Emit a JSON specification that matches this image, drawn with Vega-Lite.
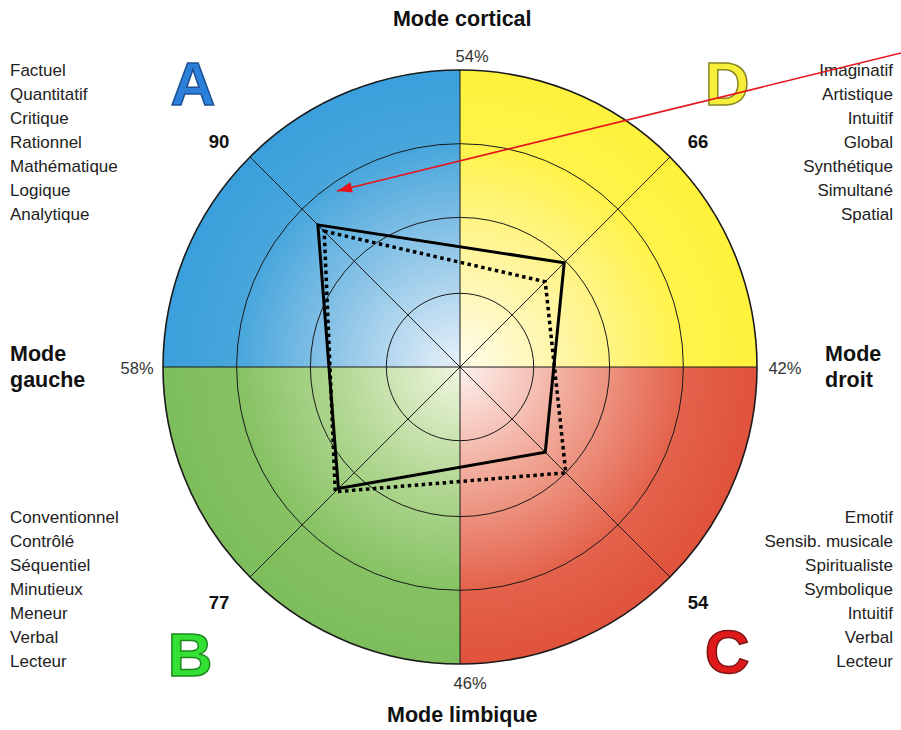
{
  "$schema": "https://vega.github.io/schema/vega-lite/v6.json",
  "width": 594,
  "height": 594,
  "autosize": "none",
  "padding": {"left": 163, "top": 70, "right": 144, "bottom": 66},
  "background": "white",
  "config": {"view": {"stroke": null}, "font": "Liberation Sans"},
  "datasets": {
    "quadrants": [
      {"q": "A", "a0": 270, "a1": 360, "rmax": 133},
      {"q": "D", "a0": 0, "a1": 90, "rmax": 133},
      {"q": "C", "a0": 90, "a1": 180, "rmax": 133},
      {"q": "B", "a0": 180, "a1": 270, "rmax": 133}
    ],
    "rings": [{"r": 33}, {"r": 67}, {"r": 100}, {"r": 133}],
    "spokes": [
      {"x": -133, "y": 0, "x2": 133, "y2": 0},
      {"x": 0, "y": 133, "x2": 0, "y2": -133},
      {"x": -94.05, "y": 94.05, "x2": 94.05, "y2": -94.05},
      {"x": 94.05, "y": 94.05, "x2": -94.05, "y2": -94.05}
    ],
    "profile": [
      {"series": "solid", "quadrant": "A", "k": 1, "score": 90, "x": -63.64, "y": 63.64},
      {"series": "solid", "quadrant": "D", "k": 2, "score": 66, "x": 46.67, "y": 46.67},
      {"series": "solid", "quadrant": "C", "k": 3, "score": 54, "x": 38.18, "y": -38.18},
      {"series": "solid", "quadrant": "B", "k": 4, "score": 77, "x": -54.45, "y": -54.45},
      {"series": "dotted", "quadrant": "A", "k": 1, "score": 86, "x": -60.81, "y": 60.81},
      {"series": "dotted", "quadrant": "D", "k": 2, "score": 54, "x": 38.18, "y": 38.18},
      {"series": "dotted", "quadrant": "C", "k": 3, "score": 67, "x": 47.38, "y": -47.38},
      {"series": "dotted", "quadrant": "B", "k": 4, "score": 79, "x": -55.86, "y": -55.86}
    ],
    "titles": [
      {"label": "Mode cortical", "x": 1, "y": 155.4, "side": "center"},
      {"label": "Mode limbique", "x": 1, "y": -156.3, "side": "center"},
      {"label": "Mode\ngauche", "x": -201.5, "y": 5.4, "side": "left"},
      {"label": "Mode\ndroit", "x": 163.5, "y": 5.4, "side": "left"}
    ],
    "percents": [
      {"label": "54%", "x": 5.4, "y": 138.8},
      {"label": "46%", "x": 4.5, "y": -142},
      {"label": "58%", "x": -144.6, "y": -0.9},
      {"label": "42%", "x": 145.5, "y": -0.9}
    ],
    "scores": [
      {"label": "90", "x": -107.9, "y": 100.8},
      {"label": "66", "x": 106.6, "y": 100.8},
      {"label": "77", "x": -107.9, "y": -105.7},
      {"label": "54", "x": 106.6, "y": -105.7}
    ],
    "letters": [
      {"q": "A", "x": -119.6, "y": 117.3},
      {"q": "D", "x": 119.6, "y": 117.3},
      {"q": "B", "x": -120.9, "y": -138.4},
      {"q": "C", "x": 119.6, "y": -137.0}
    ],
    "words": [
      {"q": "A", "side": "left", "x": -201.5, "y": 132.6, "label": "Factuel\nQuantitatif\nCritique\nRationnel\nMathématique\nLogique\nAnalytique"},
      {"q": "D", "side": "right", "x": 193.9, "y": 132.6, "label": "Imaginatif\nArtistique\nIntuitif\nGlobal\nSynthétique\nSimultané\nSpatial"},
      {"q": "B", "side": "left", "x": -201.5, "y": -67.6, "label": "Conventionnel\nContrôlé\nSéquentiel\nMinutieux\nMeneur\nVerbal\nLecteur"},
      {"q": "C", "side": "right", "x": 193.9, "y": -67.6, "label": "Emotif\nSensib. musicale\nSpiritualiste\nSymbolique\nIntuitif\nVerbal\nLecteur"}
    ],
    "arrow": [
      {"x": 197.5, "y": 140.6, "x2": -55.1, "y2": 78.8}
    ]
  },
  "layer": [
    {
      "data": {"name": "quadrants"},
      "transform": [{"filter": "datum.q == 'A'"}],
      "mark": {"type": "arc", "stroke": null, "fill": {"gradient": "radial", "x1": 1, "y1": 1, "r1": 0, "x2": 1, "y2": 1, "r2": 1, "stops": [{"offset": 0, "color": "#e8f1f9"}, {"offset": 0.4, "color": "#92c7e8"}, {"offset": 0.75, "color": "#48a6dc"}, {"offset": 1, "color": "#3a9fdb"}]}},
      "encoding": {
        "theta": {"field": "a0", "type": "quantitative", "stack": null, "scale": {"domain": [0, 360]}},
        "theta2": {"field": "a1"},
        "radius": {"field": "rmax", "type": "quantitative", "stack": null, "scale": {"type": "linear", "domain": [0, 133], "range": [0, 297], "zero": true}}
      }
    },
    {
      "data": {"name": "quadrants"},
      "transform": [{"filter": "datum.q == 'D'"}],
      "mark": {"type": "arc", "stroke": null, "fill": {"gradient": "radial", "x1": 0, "y1": 1, "r1": 0, "x2": 0, "y2": 1, "r2": 1, "stops": [{"offset": 0, "color": "#fffcec"}, {"offset": 0.4, "color": "#fff59a"}, {"offset": 0.75, "color": "#fff34a"}, {"offset": 1, "color": "#fff23c"}]}},
      "encoding": {
        "theta": {"field": "a0", "type": "quantitative", "stack": null, "scale": {"domain": [0, 360]}},
        "theta2": {"field": "a1"},
        "radius": {"field": "rmax", "type": "quantitative", "stack": null, "scale": {"type": "linear", "domain": [0, 133], "range": [0, 297], "zero": true}}
      }
    },
    {
      "data": {"name": "quadrants"},
      "transform": [{"filter": "datum.q == 'C'"}],
      "mark": {"type": "arc", "stroke": null, "fill": {"gradient": "radial", "x1": 0, "y1": 0, "r1": 0, "x2": 0, "y2": 0, "r2": 1, "stops": [{"offset": 0, "color": "#fdf1ee"}, {"offset": 0.4, "color": "#f0a493"}, {"offset": 0.75, "color": "#e4634c"}, {"offset": 1, "color": "#e0523c"}]}},
      "encoding": {
        "theta": {"field": "a0", "type": "quantitative", "stack": null, "scale": {"domain": [0, 360]}},
        "theta2": {"field": "a1"},
        "radius": {"field": "rmax", "type": "quantitative", "stack": null, "scale": {"type": "linear", "domain": [0, 133], "range": [0, 297], "zero": true}}
      }
    },
    {
      "data": {"name": "quadrants"},
      "transform": [{"filter": "datum.q == 'B'"}],
      "mark": {"type": "arc", "stroke": null, "fill": {"gradient": "radial", "x1": 1, "y1": 0, "r1": 0, "x2": 1, "y2": 0, "r2": 1, "stops": [{"offset": 0, "color": "#f0f6df"}, {"offset": 0.4, "color": "#b3d894"}, {"offset": 0.75, "color": "#86c263"}, {"offset": 1, "color": "#7dbd5b"}]}},
      "encoding": {
        "theta": {"field": "a0", "type": "quantitative", "stack": null, "scale": {"domain": [0, 360]}},
        "theta2": {"field": "a1"},
        "radius": {"field": "rmax", "type": "quantitative", "stack": null, "scale": {"type": "linear", "domain": [0, 133], "range": [0, 297], "zero": true}}
      }
    },
    {
      "data": {"name": "rings"},
      "mark": {"type": "arc", "filled": false, "fill": null, "stroke": "#1a1a1a", "theta": 0, "theta2": 6.2832},
      "encoding": {
        "radius": {"field": "r", "type": "quantitative", "stack": null, "scale": {"type": "linear", "domain": [0, 133], "range": [0, 297], "zero": true}},
        "strokeWidth": {"condition": {"test": "datum.r == 133", "value": 1.6}, "value": 1}
      }
    },
    {
      "data": {"name": "spokes"},
      "mark": {"type": "rule", "stroke": "#1a1a1a", "strokeWidth": 1},
      "encoding": {
        "x": {"field": "x", "type": "quantitative", "scale": {"domain": [-133, 133], "nice": false, "zero": false}, "axis": null},
        "y": {"field": "y", "type": "quantitative", "scale": {"domain": [-133, 133], "nice": false, "zero": false}, "axis": null},
        "x2": {"field": "x2"},
        "y2": {"field": "y2"}
      }
    },
    {
      "data": {"name": "profile"},
      "transform": [{"filter": "datum.series == 'dotted'"}],
      "mark": {"type": "line", "interpolate": "linear-closed", "stroke": "#000000", "strokeWidth": 3.5, "strokeDash": [3.5, 3.5], "strokeJoin": "miter"},
      "encoding": {
        "x": {"field": "x", "type": "quantitative", "scale": {"domain": [-133, 133], "nice": false, "zero": false}, "axis": null},
        "y": {"field": "y", "type": "quantitative", "scale": {"domain": [-133, 133], "nice": false, "zero": false}, "axis": null},
        "order": {"field": "k", "type": "quantitative"}
      }
    },
    {
      "data": {"name": "profile"},
      "transform": [{"filter": "datum.series == 'solid'"}],
      "mark": {"type": "line", "interpolate": "linear-closed", "stroke": "#000000", "strokeWidth": 3, "strokeJoin": "miter"},
      "encoding": {
        "x": {"field": "x", "type": "quantitative", "scale": {"domain": [-133, 133], "nice": false, "zero": false}, "axis": null},
        "y": {"field": "y", "type": "quantitative", "scale": {"domain": [-133, 133], "nice": false, "zero": false}, "axis": null},
        "order": {"field": "k", "type": "quantitative"}
      }
    },
    {
      "data": {"name": "titles"},
      "transform": [{"filter": "datum.side == 'center'"}],
      "mark": {"type": "text", "fontWeight": "bold", "fontSize": 21.5, "color": "#111111", "baseline": "middle", "align": "center"},
      "encoding": {
        "x": {"field": "x", "type": "quantitative", "scale": {"domain": [-133, 133], "nice": false, "zero": false}, "axis": null},
        "y": {"field": "y", "type": "quantitative", "scale": {"domain": [-133, 133], "nice": false, "zero": false}, "axis": null},
        "text": {"field": "label", "type": "nominal"}
      }
    },
    {
      "data": {"name": "titles"},
      "transform": [{"filter": "datum.side == 'left'"}],
      "mark": {"type": "text", "fontWeight": "bold", "fontSize": 21.5, "color": "#111111", "baseline": "middle", "align": "left", "lineBreak": "\n", "lineHeight": 26},
      "encoding": {
        "x": {"field": "x", "type": "quantitative", "scale": {"domain": [-133, 133], "nice": false, "zero": false}, "axis": null},
        "y": {"field": "y", "type": "quantitative", "scale": {"domain": [-133, 133], "nice": false, "zero": false}, "axis": null},
        "text": {"field": "label", "type": "nominal"}
      }
    },
    {
      "data": {"name": "percents"},
      "mark": {"type": "text", "fontSize": 16.5, "color": "#333333", "baseline": "middle", "align": "center"},
      "encoding": {
        "x": {"field": "x", "type": "quantitative", "scale": {"domain": [-133, 133], "nice": false, "zero": false}, "axis": null},
        "y": {"field": "y", "type": "quantitative", "scale": {"domain": [-133, 133], "nice": false, "zero": false}, "axis": null},
        "text": {"field": "label", "type": "nominal"}
      }
    },
    {
      "data": {"name": "scores"},
      "mark": {"type": "text", "fontSize": 18.5, "fontWeight": "bold", "color": "#111111", "baseline": "middle", "align": "center"},
      "encoding": {
        "x": {"field": "x", "type": "quantitative", "scale": {"domain": [-133, 133], "nice": false, "zero": false}, "axis": null},
        "y": {"field": "y", "type": "quantitative", "scale": {"domain": [-133, 133], "nice": false, "zero": false}, "axis": null},
        "text": {"field": "label", "type": "nominal"}
      }
    },
    {
      "data": {"name": "words"},
      "transform": [{"filter": "datum.side == 'left'"}],
      "mark": {"type": "text", "fontSize": 17, "color": "#222222", "baseline": "middle", "align": "left", "lineBreak": "\n", "lineHeight": 24},
      "encoding": {
        "x": {"field": "x", "type": "quantitative", "scale": {"domain": [-133, 133], "nice": false, "zero": false}, "axis": null},
        "y": {"field": "y", "type": "quantitative", "scale": {"domain": [-133, 133], "nice": false, "zero": false}, "axis": null},
        "text": {"field": "label", "type": "nominal"}
      }
    },
    {
      "data": {"name": "words"},
      "transform": [{"filter": "datum.side == 'right'"}],
      "mark": {"type": "text", "fontSize": 17, "color": "#222222", "baseline": "middle", "align": "right", "lineBreak": "\n", "lineHeight": 24},
      "encoding": {
        "x": {"field": "x", "type": "quantitative", "scale": {"domain": [-133, 133], "nice": false, "zero": false}, "axis": null},
        "y": {"field": "y", "type": "quantitative", "scale": {"domain": [-133, 133], "nice": false, "zero": false}, "axis": null},
        "text": {"field": "label", "type": "nominal"}
      }
    },
    {
      "data": {"name": "letters"},
      "mark": {"type": "text", "font": "Liberation Sans Narrow, Liberation Sans", "fontSize": 62, "fontWeight": "bold", "baseline": "alphabetic", "align": "center", "strokeWidth": 1.5},
      "encoding": {
        "x": {"field": "x", "type": "quantitative", "scale": {"domain": [-133, 133], "nice": false, "zero": false}, "axis": null},
        "y": {"field": "y", "type": "quantitative", "scale": {"domain": [-133, 133], "nice": false, "zero": false}, "axis": null},
        "text": {"field": "q", "type": "nominal"},
        "fill": {"field": "q", "type": "nominal", "legend": null, "scale": {"domain": ["A", "B", "C", "D"], "range": ["#2c80da", "#33e033", "#e01a1a", "#f6ef3a"]}},
        "stroke": {"field": "q", "type": "nominal", "legend": null, "scale": {"domain": ["A", "B", "C", "D"], "range": ["#1c4f94", "#1f8a1f", "#7a1414", "#8a8524"]}}
      }
    },
    {
      "data": {"name": "arrow"},
      "mark": {"type": "rule", "stroke": "#e8141c", "strokeWidth": 1.6},
      "encoding": {
        "x": {"field": "x", "type": "quantitative", "scale": {"domain": [-133, 133], "nice": false, "zero": false}, "axis": null},
        "y": {"field": "y", "type": "quantitative", "scale": {"domain": [-133, 133], "nice": false, "zero": false}, "axis": null},
        "x2": {"field": "x2"},
        "y2": {"field": "y2"}
      }
    },
    {
      "data": {"name": "arrow"},
      "mark": {"type": "point", "shape": "M0,0L0.55,1.6L-0.55,1.6Z", "filled": true, "color": "#e8141c", "opacity": 1, "size": 360, "angle": 256, "strokeWidth": 0},
      "encoding": {
        "x": {"field": "x2", "type": "quantitative", "scale": {"domain": [-133, 133], "nice": false, "zero": false}, "axis": null},
        "y": {"field": "y2", "type": "quantitative", "scale": {"domain": [-133, 133], "nice": false, "zero": false}, "axis": null}
      }
    }
  ]
}
